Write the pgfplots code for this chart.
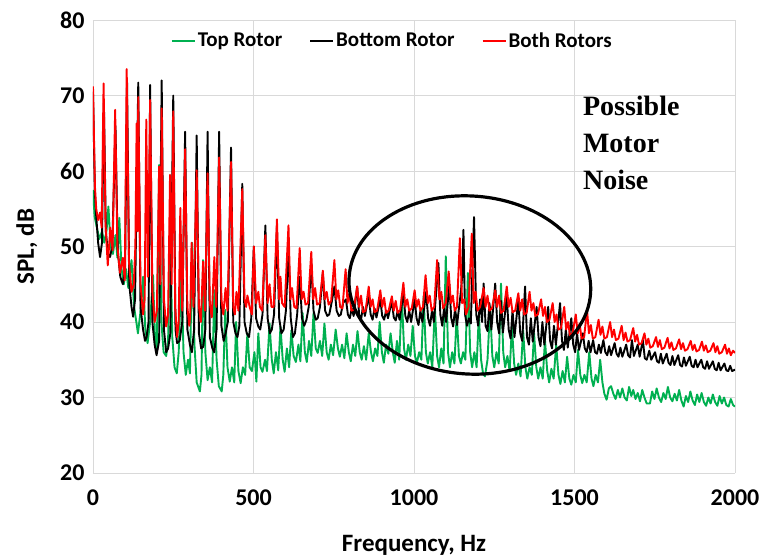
\documentclass[border=0pt]{standalone}
\usepackage{pgfplots}
\pgfplotsset{compat=1.18}
\usepackage{fontspec}
\setmainfont{Carlito}
\newfontfamily\serifbold{Liberation Serif}
\definecolor{xlgreen}{RGB}{0,176,80}
\definecolor{gridgray}{RGB}{217,217,217}
\begin{document}
\begin{tikzpicture}
\begin{axis}[
  scale only axis, width=642pt, height=453pt,
  xmin=0, xmax=2000, ymin=20, ymax=80,
  xtick={0,500,1000,1500,2000}, ytick={20,30,...,80},
  major tick length=0pt,
  grid=major, major grid style={gridgray, line width=0.8pt},
  axis lines=left, axis line style={gridgray, line width=0.8pt, -},
  /pgf/number format/assume math mode=true,
  /pgf/number format/1000 sep={},
  tick label style={font=\fontsize{24}{28}\selectfont\bfseries},
  xticklabel style={yshift=-13pt},
  yticklabel style={xshift=-5pt},
  xlabel={Frequency, Hz}, ylabel={SPL, dB},
  label style={font=\fontsize{25}{30}\selectfont\bfseries},
  x label style={at={(axis description cs:0.5,-0.16)}, anchor=center},
  y label style={at={(axis description cs:-0.103,0.5)}, anchor=center},
  legend columns=3,
  legend style={at={(0.466,0.954)}, anchor=center, draw=none, fill=none,
    font=\fontsize{21}{25}\selectfont\bfseries, inner sep=0pt,
    /tikz/every even column/.append style={column sep=25pt}},
  legend image code/.code={\draw[#1, line width=2pt] (0pt,0pt) -- (23pt,0pt);},
  clip=true,
  every axis plot/.append style={line width=1.9pt, line join=round, mark=none},
]
\coordinate (O) at (rel axis cs:0,0);
% Top Rotor
\addplot[xlgreen] coordinates {
(0,57.5)(5,54)(12,52.5)(20,51)(28,52)(35,50.5)(42,52)(48,55.3)(55,50)(62,49)(70,51.5)(76,48.5)(82,53.8)(89,47)(96,45)(103,47)(110,44.5)(120,48.2)(128,42)(135,40)(140,38.5)(147,41)(156,46)(163,39)(170,37.2)(178,40)(187,46.2)(193,38)(199,36.5)(206,60.8)(213,40)(220,36)(228,35.5)(234,37.5)(240,53.5)(247,38)(254,34)(261,33.2)(267,36)(275,47)(282,36)(289,33)(296,35)(302,33.2)(309,50.5)(316,37)(323,32)(333,30.8)(338,33)(343,48.2)(350,36)(357,32.3)(364,34)(371,32)(378,44.2)(385,35)(392,31.5)(401,30.8)(406,33)(412,41.6)(419,34)(426,32.1)(433,34)(440,32)(446,40)(453,33.5)(460,31.9)(467,34)(474,33)(481,38.5)(488,34)(495,33.5)(503,36)(509,32.1)(515,38.5)(522,34)(528,33.4)(536,35)(542,33.5)(550,39.8)(557,35)(563,33.2)(570,36)(577,33.6)(584,39.4)(591,35)(597,33.4)(604,36.5)(611,34)(618,38.9)(625,35.5)(632,34.7)(640,37)(646,34.8)(653,41.2)(660,36)(666,34.7)(673,37.5)(680,35.5)(687,41.2)(694,36.5)(700,35.9)(707,37.5)(714,35.5)(721,39.8)(728,36)(734,35)(741,37)(748,35.6)(756,39)(763,36.5)(769,35.4)(776,37)(783,35.2)(790,38.5)(797,36)(803,34.8)(810,37)(817,35.5)(824,38.8)(831,36)(837,35)(844,36.8)(851,35)(859,38.5)(866,36)(872,34.8)(879,36.5)(886,35.5)(893,40)(900,36)(906,34.6)(913,37)(920,35.8)(927,38.5)(934,36)(940,34.6)(947,37.5)(954,35)(962,43.4)(969,36.5)(975,35)(982,37)(989,35.5)(996,39.5)(1003,35.5)(1009,34.6)(1016,36)(1023,35)(1030,43.4)(1037,36)(1043,34.5)(1050,36)(1057,34)(1065,42)(1072,35.5)(1078,34)(1085,36.5)(1092,34.5)(1099,48.7)(1106,36)(1112,34)(1119,36)(1126,34.5)(1133,41)(1140,35.5)(1146,34.5)(1153,36)(1160,35)(1168,46.5)(1175,36)(1181,34)(1188,36)(1195,34)(1202,41)(1209,35)(1215,33.2)(1221,32.8)(1229,35)(1237,42)(1244,35.5)(1250,34)(1257,36)(1264,34.5)(1271,45.1)(1278,36)(1284,34)(1291,35.5)(1298,33.5)(1305,39.4)(1312,34.5)(1318,33)(1325,34.5)(1332,32.8)(1340,38.9)(1347,34)(1353,32.5)(1360,34)(1367,33)(1374,38.5)(1381,34)(1387,32.5)(1394,34)(1401,32.5)(1408,37.6)(1415,33.5)(1421,32)(1428,33.8)(1435,32.5)(1443,37)(1450,33)(1456,31.8)(1463,33.5)(1470,32)(1477,35.4)(1484,32.5)(1490,31.7)(1497,33)(1504,32)(1511,36.3)(1518,33)(1524,31.9)(1531,33)(1538,32)(1546,36)(1553,32.5)(1559,31.5)(1566,33)(1573,32)(1580,35)(1587,32)(1593,30.5)(1600,29.7)(1607,31.2)(1614,31.5)(1621,30.5)(1628,29.8)(1635,31)(1642,30)(1649,31.2)(1656,30)(1663,29.6)(1670,31.4)(1677,30.2)(1683,31)(1690,29.8)(1697,30.6)(1704,29.5)(1711,31)(1718,30)(1725,29.2)(1735,29.2)(1742,30.8)(1749,29.8)(1756,31.2)(1763,30)(1770,29.4)(1777,30.6)(1784,29.8)(1791,31.4)(1798,30)(1805,29.5)(1812,30.5)(1819,29.6)(1826,31)(1833,29.6)(1840,28.8)(1847,30.2)(1854,29.4)(1861,30.8)(1868,29.6)(1875,29)(1882,30.4)(1889,29.4)(1896,30.6)(1903,29.4)(1910,28.9)(1917,30)(1924,29.2)(1931,30.4)(1938,29.4)(1945,28.9)(1952,30.2)(1959,29.2)(1966,30)(1973,29)(1980,28.8)(1987,29.8)(1994,29)(2000,28.8)
};
\addlegendentry{Top Rotor}
% Bottom Rotor
\addplot[black] coordinates {
(0,70.5)(6,57)(10,54)(16,50.5)(22,48.6)(28,50.5)(34,69)(40,52)(47,49)(53,48.6)(60,50)(70,66)(77,49.5)(85,46)(93,45)(100,47)(106,72)(113,45)(120,42)(125,40.7)(131,43)(141,71.7)(148,42)(156,39)(162,37.5)(167,38)(173,40)(178,71.4)(185,40)(192,37)(198,35.6)(206,37.5)(214,72)(221,39)(228,36)(234,36.5)(241,38.5)(250,70)(257,39)(262,37.2)(270,37.5)(278,40)(287,65.2)(294,39)(302,37)(308,36)(315,39)(323,64.7)(330,38.5)(337,36.5)(343,36.7)(350,39)(357,65.2)(364,38)(372,36.5)(378,36)(385,39)(393,65.2)(400,39.5)(407,37.5)(413,38.5)(420,40)(430,63.1)(437,40)(444,38.5)(450,38)(456,39.5)(465,58.3)(472,40)(479,38.5)(486,38)(493,40.5)(501,50)(508,40.5)(515,39.4)(521,39)(528,41)(537,52.8)(544,40.5)(551,38.5)(557,39)(564,41)(573,52.5)(580,40.5)(587,38.5)(594,39)(601,41.5)(609,50)(616,40.5)(623,38)(629,38.5)(636,41)(644,46)(651,40.5)(658,39.5)(665,40.3)(672,42)(680,47.8)(687,41.5)(694,40.3)(700,40.5)(707,42)(716,46.5)(723,41.5)(730,40.8)(736,41)(743,42.5)(752,44.7)(759,41.5)(766,40.8)(772,41)(779,42.5)(788,43)(794,41)(800,40.5)(806,41.8)(812,40.8)(823,44.7)(829,41)(835,40.3)(841,42)(847,40.8)(859,43.5)(865,41)(871,40.3)(877,41.8)(883,40.6)(895,43)(901,40.8)(907,40.3)(913,41.5)(919,40.5)(931,42.8)(937,40.6)(943,40.2)(949,41.5)(955,40.3)(967,43.8)(973,40.8)(979,40)(985,41.5)(991,40)(1002,43)(1008,40.5)(1014,39.6)(1020,41.5)(1026,40)(1038,44)(1044,40.5)(1050,39.5)(1056,41.5)(1062,40)(1076,47.8)(1082,41)(1088,39.5)(1094,42)(1100,40)(1110,45)(1116,40.5)(1122,39.4)(1128,41.8)(1134,39.6)(1146,44)(1150,46)(1154,52.2)(1159,41)(1165,39.5)(1171,40.5)(1177,39.8)(1187,53.9)(1194,41)(1200,39.5)(1206,43)(1212,40)(1217,45.1)(1223,39.5)(1229,38.8)(1235,42.5)(1241,39)(1253,45.1)(1259,40)(1265,38.5)(1271,42.8)(1277,38.6)(1289,43.4)(1295,39)(1301,37.8)(1307,41.5)(1313,38)(1325,43)(1331,38.5)(1337,37.5)(1346,44.7)(1352,38)(1358,37)(1364,40.5)(1370,37.4)(1382,42)(1388,38)(1394,36.8)(1400,40)(1406,37)(1418,42)(1424,37.5)(1430,36.5)(1436,39.5)(1442,37)(1455,42.5)(1461,37.5)(1467,36.3)(1473,39)(1479,36.6)(1490,40.5)(1496,37)(1502,36)(1508,38.5)(1514,36.3)(1526,38.5)(1532,36.5)(1538,36)(1544,37.5)(1550,36)(1558,37.6)(1564,36)(1570,35.8)(1576,37)(1582,35.9)(1590,37.6)(1596,36)(1602,35.6)(1608,36.8)(1614,35.6)(1625,37.2)(1631,35.8)(1637,35.4)(1643,36.6)(1649,35.4)(1661,37)(1667,35.6)(1673,35.3)(1679,37.6)(1685,35.5)(1697,37)(1703,35.4)(1713,37.6)(1719,35.2)(1725,35)(1733,36.2)(1739,35)(1751,36)(1757,34.8)(1763,34.6)(1769,35.8)(1775,34.5)(1787,35.8)(1793,34.6)(1799,34.3)(1805,35.5)(1811,34.3)(1823,35.6)(1829,34.3)(1835,34.1)(1841,35.3)(1847,34.2)(1859,35.4)(1865,34.2)(1871,34)(1877,35)(1883,34)(1895,35)(1901,34)(1907,33.8)(1913,34.8)(1919,33.8)(1931,34.8)(1937,33.8)(1943,33.6)(1949,34.6)(1955,33.6)(1967,34.5)(1973,33.6)(1979,33.5)(1985,34.2)(1991,33.5)(2000,33.7)
};
\addlegendentry{Bottom Rotor}
% Both Rotors
\addplot[red] coordinates {
(0,71.2)(6,58)(10,55)(16,53.5)(22,54.5)(27,52.5)(33,71.6)(39,53)(46,47.5)(54,52.5)(61,49.5)(69,68.1)(76,50)(84,46.5)(93,48.5)(99,45.5)(105,73.5)(112,48)(120,44)(127,45)(132,50)(136,66.3)(139,52)(141,69.8)(148,45)(156,41)(161,43)(166,66.8)(171,46)(178,69.4)(185,44)(192,40)(199,41.5)(206,60.6)(210,45)(214,68.3)(221,43)(228,39.4)(234,41)(240,59.5)(245,45)(250,67.9)(256,42)(262,38)(267,40)(272,55.1)(278,41.5)(287,62.9)(294,42)(300,39.5)(303,41)(307,50.5)(313,42)(323,60.1)(330,42)(336,40)(343,48)(349,41.5)(357,59.7)(364,42.5)(370,40.6)(378,48.6)(384,42)(393,61.8)(400,43)(406,41)(413,44.5)(419,41.5)(430,61.2)(437,42)(442,41)(447,44)(453,41.5)(465,57.6)(472,43)(477,42)(481,43.5)(488,42)(495,41)(501,50)(508,42.5)(515,44)(520,42)(527,41.5)(537,51.5)(544,42.5)(550,45)(556,42)(563,42)(573,53.6)(580,43)(584,46)(589,42.5)(597,42)(609,52.8)(615,43)(620,44.5)(627,42)(634,41.8)(644,49.8)(650,43)(656,44)(662,42.3)(670,42.5)(680,49.3)(686,43)(692,44.5)(698,42.3)(706,42.5)(716,46.8)(722,43)(728,44)(734,42.3)(742,42.8)(752,48.2)(758,43)(764,44.2)(770,42)(777,41.8)(787,47)(793,42.5)(799,43.8)(805,41.5)(812,41.6)(823,44.7)(829,42)(835,43.5)(841,41.3)(849,41.5)(859,44.7)(865,42)(871,43)(877,41.3)(885,41.5)(895,44.2)(901,42)(907,43.2)(913,41.2)(921,41.5)(931,43.4)(937,41.5)(943,42.8)(949,41.2)(957,41.6)(967,45.2)(973,42)(979,43)(985,41.5)(993,41.8)(1002,44.2)(1008,42)(1014,43)(1020,41.5)(1028,42)(1036,46.2)(1043,42.5)(1049,43.5)(1055,41.5)(1063,42)(1072,48.2)(1079,43)(1085,44)(1091,41.8)(1099,42.5)(1108,46.7)(1115,42.5)(1121,43.5)(1127,41.5)(1134,42)(1143,51.1)(1150,42.5)(1156,43)(1162,41)(1170,42)(1180,51.7)(1186,42.5)(1192,44)(1198,41.5)(1206,42)(1217,44.5)(1223,42)(1229,43.5)(1235,41.5)(1243,41.8)(1253,44.2)(1259,42)(1265,43.5)(1271,41.2)(1279,41.5)(1289,44.7)(1295,42)(1301,43.2)(1307,41.3)(1315,41.5)(1325,43.8)(1331,41.5)(1337,43)(1343,41)(1351,41.2)(1360,44)(1366,41.5)(1372,42.5)(1378,40.8)(1386,41)(1396,43)(1402,40.8)(1408,42)(1414,40)(1422,40.3)(1432,42.5)(1438,40)(1444,41)(1450,39)(1458,39.2)(1468,42)(1474,39)(1480,40)(1486,38.2)(1494,38.5)(1504,41)(1510,38.5)(1516,39.8)(1522,37.8)(1530,38)(1539,41.6)(1545,38.5)(1551,39.6)(1557,37.8)(1565,38)(1575,40.3)(1581,38.3)(1587,39.4)(1593,37.8)(1601,38)(1611,40)(1617,38)(1623,39)(1629,37.6)(1637,37.8)(1647,39.5)(1653,37.6)(1659,38.6)(1665,37.4)(1673,37.6)(1683,39.2)(1689,37.4)(1695,38.3)(1701,37)(1709,37.2)(1718,38.5)(1724,37)(1730,37.8)(1736,36.6)(1744,36.8)(1754,38)(1760,36.7)(1766,37.6)(1772,36.4)(1780,36.6)(1790,37.9)(1796,36.5)(1802,37.3)(1808,36.3)(1816,36.5)(1826,37.7)(1832,36.4)(1838,37.2)(1844,36.2)(1852,36.4)(1862,37.5)(1868,36.3)(1874,37)(1880,36.1)(1888,36.3)(1897,37.4)(1903,36.2)(1909,36.9)(1915,36)(1923,36.2)(1933,37.2)(1939,36)(1945,36.8)(1951,35.8)(1959,36)(1969,37)(1975,35.8)(1981,36.5)(1987,35.6)(1994,36.2)(2000,35.9)
};
\addlegendentry{Both Rotors}
\draw[black, line width=3.2pt] (axis cs:1174,44.9) ellipse [x radius=121pt, y radius=89pt, rotate=-4];
\node[anchor=north west, align=left, inner sep=0pt,
  font=\serifbold\bfseries\fontsize{28}{37}\selectfont]
  at (axis description cs:0.763,0.832) {Possible\\Motor\\Noise};
\end{axis}
\pgfresetboundingbox
\path (O) ++(-93pt,-86pt) rectangle ++(763pt,559pt);
\end{tikzpicture}
\end{document}
